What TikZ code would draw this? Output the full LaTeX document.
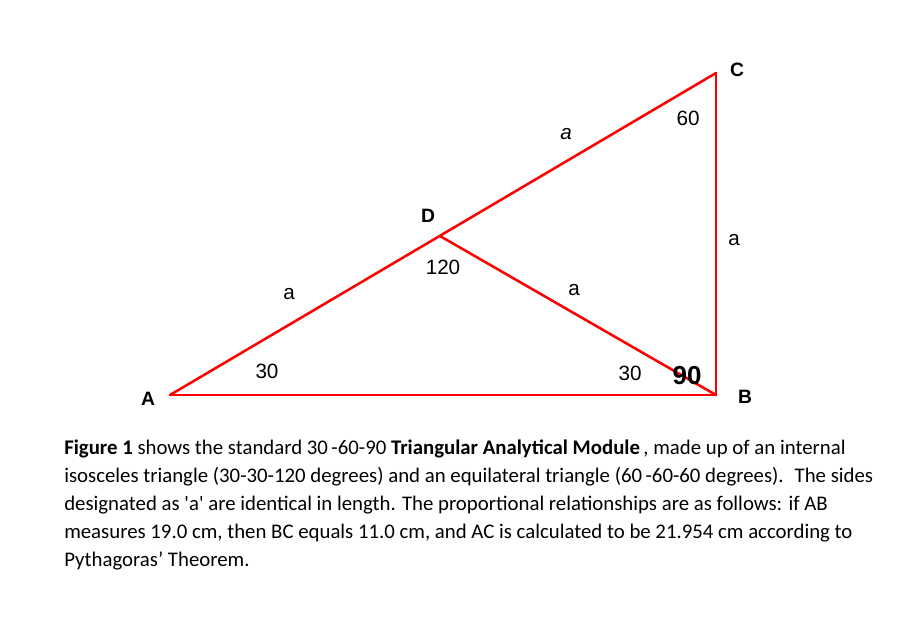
\documentclass[tikz,border=0pt]{standalone}
\usepackage{fontspec}
\setmainfont{Liberation Sans}
\newfontfamily\capfont{Carlito}
\usetikzlibrary{positioning}

\begin{document}
\begin{tikzpicture}[x=0.75pt,y=-0.75pt,
		side/.style={draw=red, line width=1.9pt, line cap=round, line join=round},
		vtx/.style={font=\bfseries\fontsize{14.5}{16}\selectfont},
		ang/.style={font=\fontsize{15.5}{17}\selectfont},
		len/.style={font=\fontsize{15.5}{17}\selectfont}]
		
		\useasboundingbox (0,0) rectangle (907,622);
		
		% corners of the triangle
		\coordinate (A) at (170,395);
		\coordinate (B) at (716,395);
		\coordinate (C) at (716,73);
		\coordinate (D) at (440,236);
		
		\path [side]
		(A) edge (B)
		(B) edge (C)
		(C) edge (A)
		(D) edge (B)
		;
		
		% vertex names
		\node (nA) [vtx] at (148,399) {A};
		\node (nB) [vtx] at (745,397) {B};
		\node (nC) [vtx] at (737,70) {C};
		\node (nD) [vtx] at (428,216) {D};
		
		% angles
		\node (angA) [ang] at (267,371) {30};
		\node (angB) [ang] at (630,373) {30};
		\node (angR) [font=\bfseries\fontsize{19.5}{21}\selectfont] at (687,376) {90};
		\node (angC) [ang] at (688,118) {60};
		\node (angD) [ang] at (443,267) {120};
		
		% sides
		\node (sDC) [len, font=\itshape\fontsize{15.5}{17}\selectfont] at (566,134) {a};
		\node (sAD) [len] at (289,294) {a};
		\node (sBC) [len] at (734,240) {a};
		\node (sDB) [len] at (574,290) {a};
		
		% caption
		\node (cap) [anchor=north west, align=left, inner sep=0pt,
			font=\capfont\fontsize{15.6}{21}\selectfont] at (64,440)
			{{\bfseries Figure 1} shows the standard 30\,-60-90 {\bfseries Triangular Analytical Module}\,, made up of an internal\\
			isosceles triangle (30-30-120 degrees) and an equilateral triangle (60\,-60-60 degrees).~ The sides\\
			designated as 'a' are identical in length. The proportional relationships are as follows: if AB\\
			measures 19.0 cm, then BC equals 11.0 cm, and AC is calculated to be 21.954 cm according to\\
			Pythagoras’ Theorem.};
	\end{tikzpicture}
\end{document}
